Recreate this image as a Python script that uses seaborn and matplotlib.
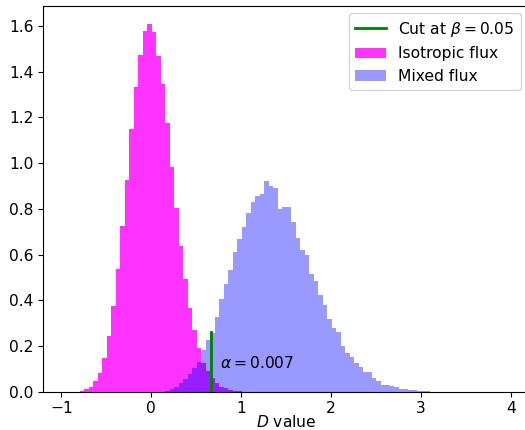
import numpy as np
import pandas as pd
import matplotlib
matplotlib.use("Agg")
import matplotlib.pyplot as plt
import seaborn as sns

# ---------------- data ----------------
bin_width = 0.05

iso_first_edge = -0.794
iso_density = [0.003, 0.010, 0.022, 0.046, 0.083, 0.149, 0.245, 0.376, 0.537,
               0.725, 0.926, 1.149, 1.333, 1.475, 1.578, 1.609, 1.574, 1.470,
               1.347, 1.174, 0.984, 0.805, 0.639, 0.492, 0.365, 0.270, 0.190,
               0.124, 0.092, 0.058, 0.037, 0.022, 0.015, 0.007, 0.004, 0.002]

mixed_first_edge = 0.156
mixed_density = [0.003, 0.010, 0.022, 0.037, 0.054, 0.076, 0.105, 0.131, 0.182,
                 0.226, 0.258, 0.328, 0.406, 0.470, 0.532, 0.612, 0.668, 0.720,
                 0.784, 0.830, 0.856, 0.865, 0.920, 0.901, 0.890, 0.798, 0.809,
                 0.807, 0.744, 0.671, 0.620, 0.598, 0.513, 0.484, 0.422, 0.381,
                 0.317, 0.277, 0.261, 0.201, 0.171, 0.153, 0.124, 0.107, 0.088,
                 0.085, 0.060, 0.048, 0.031, 0.028, 0.026, 0.019, 0.013, 0.012,
                 0.007, 0.007, 0.005, 0.005, 0.002]

cut_value = 0.67
cut_line_top = 0.26
alpha_value = 0.007
beta_value = 0.05

series_labels = ["Isotropic flux", "Mixed flux"]
x_ticks = [-1, 0, 1, 2, 3, 4]
y_ticks = [0.0, 0.2, 0.4, 0.6, 0.8, 1.0, 1.2, 1.4, 1.6]
x_label = "$D$ value"


def hist_table(first_edge, values):
    edges = np.round(first_edge + bin_width * np.arange(len(values) + 1), 4)
    df = pd.DataFrame({"D": edges[:-1] + bin_width / 2, "w": values})
    return df, [float(e) for e in edges]


# ---------------- figure ----------------
plt.rcParams["font.family"] = ["DejaVu Sans"]
plt.rcParams["font.size"] = 11.2

W, H = 525, 430
fig = plt.figure(figsize=(W / 100, H / 100), dpi=100)
left_px, right_px, top_px, bottom_px = 43.3, 528.8, 5.7, 391.7
ax = fig.add_axes([left_px / W, (H - bottom_px) / H,
                   (right_px - left_px) / W, (bottom_px - top_px) / H])

iso_df, iso_edges = hist_table(iso_first_edge, iso_density)
mix_df, mix_edges = hist_table(mixed_first_edge, mixed_density)

sns.histplot(data=iso_df, x="D", weights="w", bins=iso_edges,
             element="step", fill=True, color="magenta",
             alpha=0.8, linewidth=0, label=series_labels[0], ax=ax)
sns.histplot(data=mix_df, x="D", weights="w", bins=mix_edges,
             element="step", fill=True, color="blue",
             alpha=0.4, linewidth=0, label=series_labels[1], ax=ax)

cut_handle, = ax.plot([cut_value, cut_value], [0, cut_line_top],
                      color="green", lw=2, zorder=3,
                      label=rf"Cut at $\beta = {beta_value}$")

ax.text(0.77, 0.124, rf"$\alpha = {alpha_value}$", ha="left", va="center")

ax.set_xlim(-1.2, 4.2)
ax.set_ylim(0, 1.689)
ax.set_xticks(x_ticks)
ax.set_yticks(y_ticks)
ax.set_xlabel(x_label, labelpad=-1.5)
ax.set_ylabel("")

handles, labels = ax.get_legend_handles_labels()
order = [labels.index(cut_handle.get_label())] + \
        [labels.index(s) for s in series_labels]
ax.legend([handles[i] for i in order], [labels[i] for i in order],
          loc="upper right")

fig.savefig("out.png", dpi=100)
